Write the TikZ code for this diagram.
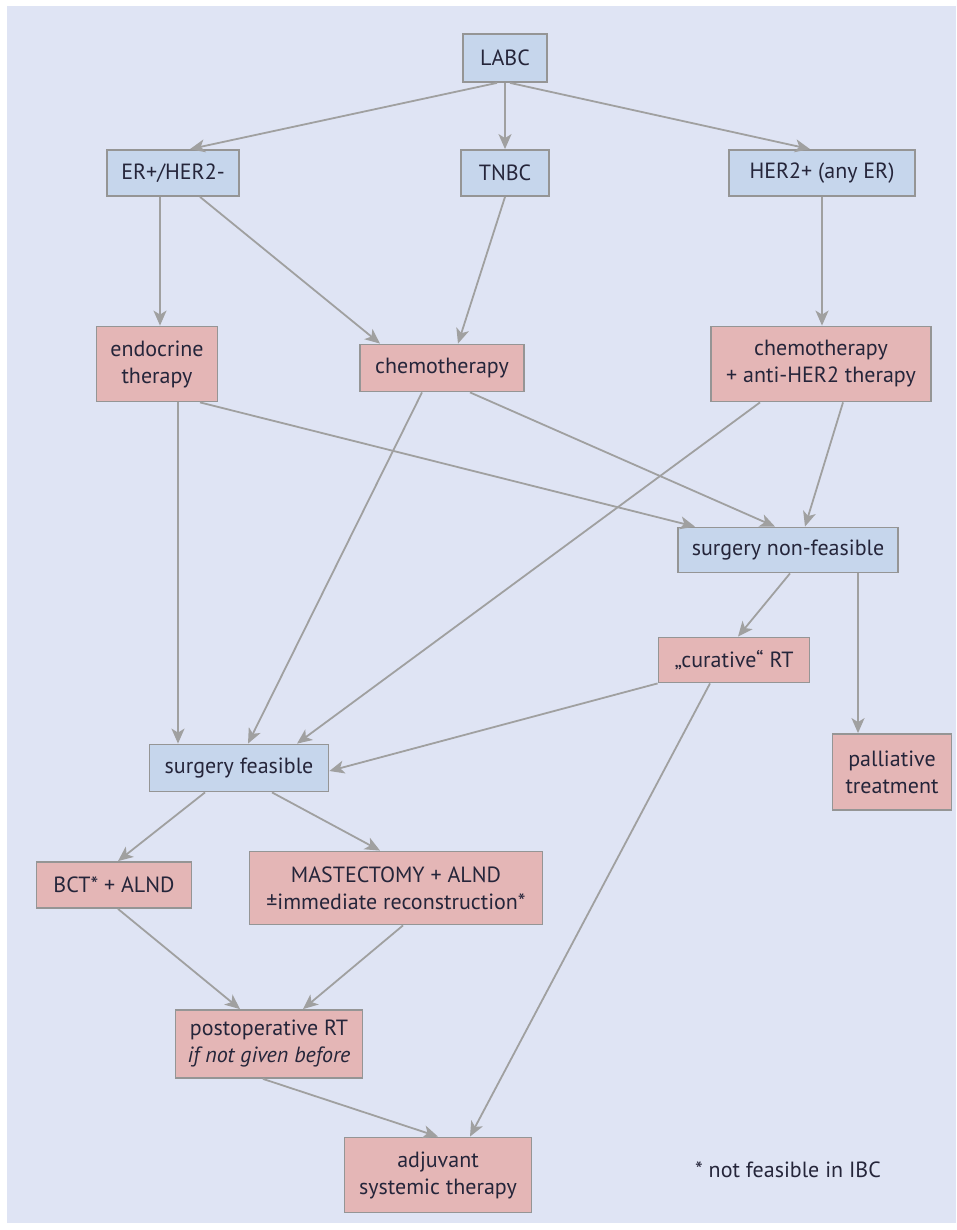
\documentclass[tikz,border=0pt]{standalone}
\usepackage{fontspec}
\setmainfont{PT Sans}
\usetikzlibrary{arrows.meta}
\definecolor{panel}{HTML}{DFE4F4}
\definecolor{bluebox}{HTML}{C6D6EC}
\definecolor{pinkbox}{HTML}{E4B6B6}
\definecolor{edge}{HTML}{959595}
\definecolor{arrowc}{HTML}{A0A0A0}
\definecolor{txt}{HTML}{25253A}
\begin{document}
\begin{tikzpicture}[x=1pt,y=-1pt,
  every node/.style={font=\fontsize{22}{27}\selectfont, text=txt},
  box/.style={draw=edge, line width=1.8pt, inner sep=0pt, align=center},
  bbox/.style={box, fill=bluebox},
  pbox/.style={box, fill=pinkbox},
  arr/.style={draw=arrowc, line width=1.8pt, -{Stealth[length=15pt,width=13pt,inset=4pt]}},
]
\useasboundingbox (0,0) rectangle (956,1230);
\fill[panel] (7,6) rectangle (956,1223);

\node[bbox, minimum width=84pt, minimum height=48pt] (labc) at (505,58) {LABC};
\node[bbox, minimum width=132pt, minimum height=46pt] (er) at (173,173) {ER+/HER2-};
\node[bbox, minimum width=88pt, minimum height=46pt] (tnbc) at (505,173) {TNBC};
\node[bbox, minimum width=186pt, minimum height=46pt] (her) at (822,173) {HER2+ (any ER)};
\node[pbox, minimum width=121pt, minimum height=75pt] (endo) at (157,364) {endocrine\\therapy};
\node[pbox, minimum width=164pt, minimum height=47pt] (chemo) at (442,368) {chemotherapy};
\node[pbox, minimum width=220pt, minimum height=75pt] (chher) at (821,364) {chemotherapy\\+ anti-HER2 therapy};
\node[bbox, minimum width=220pt, minimum height=45pt] (snf) at (788,550) {surgery non-feasible};
\node[pbox, minimum width=151pt, minimum height=45pt] (crt) at (734,660) {„curative“ RT};
\node[pbox, minimum width=119pt, minimum height=76pt] (pall) at (892,772) {palliative\\treatment};
\node[bbox, minimum width=179pt, minimum height=47pt] (sf) at (239,768) {surgery feasible};
\node[pbox, minimum width=155pt, minimum height=46pt] (bct) at (114,885) {BCT* + ALND};
\node[pbox, minimum width=293pt, minimum height=73pt] (mast) at (396,888) {MASTECTOMY + ALND\\±immediate reconstruction*};
\node[pbox, minimum width=187pt, minimum height=68pt] (post) at (269,1044) {postoperative RT\\\textit{if not given before}};
\node[pbox, minimum width=187pt, minimum height=75pt] (adj) at (438,1175) {adjuvant\\systemic therapy};
\node (foot) at (788,1170) {* not feasible in IBC};

% level 1
\draw[arr] ([xshift=-8pt]labc.south) -- ([xshift=17pt]er.north);
\draw[arr] (labc.south) -- (tnbc.north);
\draw[arr] ([xshift=5pt]labc.south) -- ([xshift=-12pt]her.north);
% level 2
\draw[arr] ([xshift=-13pt]er.south) -- ([xshift=3pt]endo.north);
\draw[arr] ([xshift=27pt]er.south) -- ([xshift=-62pt]chemo.north);
\draw[arr] (tnbc.south) -- ([xshift=16pt]chemo.north);
\draw[arr] (her.south) -- ([xshift=1pt]chher.north);
% to surgery non-feasible
\draw[arr] ([xshift=43pt]endo.south) -- ([xshift=-93pt]snf.north);
\draw[arr] ([xshift=28pt]chemo.south) -- ([xshift=-13pt]snf.north);
\draw[arr] ([xshift=22pt]chher.south) -- ([xshift=17pt]snf.north);
% to surgery feasible
\draw[arr] ([xshift=21pt]endo.south) -- ([xshift=-61pt]sf.north);
\draw[arr] ([xshift=-20pt]chemo.south) -- ([xshift=9pt]sf.north);
\draw[arr] ([xshift=-61pt]chher.south) -- ([xshift=58pt]sf.north);
% from surgery non-feasible
\draw[arr] ([xshift=2pt]snf.south) -- ([xshift=4pt]crt.north);
\draw[arr] ([xshift=70pt]snf.south) -- ([xshift=-34pt]pall.north);
% from curative RT
\draw[arr] (crt.south west) -- ([yshift=-3pt]sf.east);
\draw[arr] ([xshift=-24pt]crt.south) -- ([xshift=32pt]adj.north);
% from surgery feasible
\draw[arr] ([xshift=-34pt]sf.south) -- ([xshift=4pt]bct.north);
\draw[arr] ([xshift=33pt]sf.south) -- ([xshift=-16pt]mast.north);
% to postoperative RT
\draw[arr] ([xshift=4pt]bct.south) -- ([xshift=-29pt]post.north);
\draw[arr] ([xshift=7pt]mast.south) -- ([xshift=34pt]post.north);
% to adjuvant
\draw[arr] ([xshift=-6pt]post.south) -- (adj.north);
\end{tikzpicture}
\end{document}
